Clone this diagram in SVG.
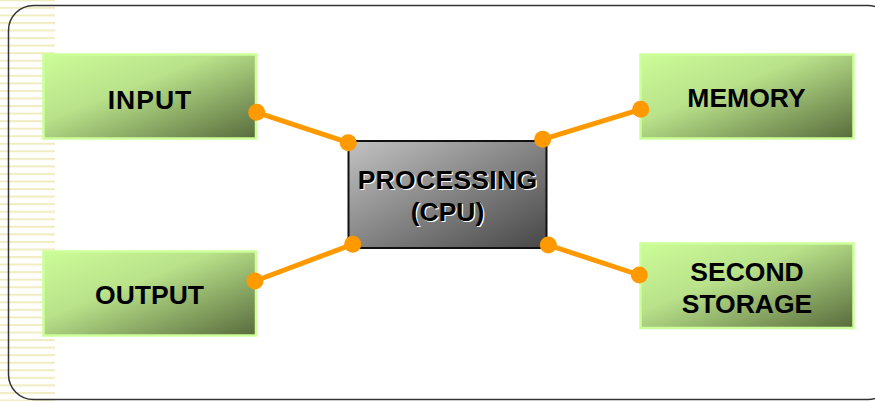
<svg xmlns="http://www.w3.org/2000/svg" width="875" height="401" viewBox="0 0 875 401">
  <defs>
    <pattern id="stripes" x="0" y="-0.7" width="55" height="7.55" patternUnits="userSpaceOnUse">
      <rect x="0" y="0" width="55" height="2.1" fill="#f0edc3"/>
    </pattern>
    <linearGradient id="green" x1="0" y1="0" x2="1" y2="1">
      <stop offset="0" stop-color="#ccfc98"/>
      <stop offset="0.4" stop-color="#b9e28a"/>
      <stop offset="1" stop-color="#586b3c"/>
    </linearGradient>
    <linearGradient id="gray" x1="0" y1="0" x2="1" y2="1">
      <stop offset="0" stop-color="#c2c2c2"/>
      <stop offset="1" stop-color="#474747"/>
    </linearGradient>
    <style>
      .box { fill: url(#green); stroke: #ccff99; stroke-width: 2.5; }
      .cpu { fill: url(#gray); stroke: #111; stroke-width: 2; }
      .lbl { font-family: "Liberation Sans", Arial, sans-serif; font-weight: bold; font-size: 26.5px; text-anchor: middle; fill: #000; }
      .hl { fill: #fff; }
      .conn { stroke: #ff9900; stroke-width: 5; stroke-linecap: round; fill: none; }
      .dot { fill: #ff9900; }
    </style>
  </defs>

  <rect x="0" y="0" width="875" height="401" fill="#fff"/>
  <rect x="0" y="0" width="55" height="401" fill="url(#stripes)"/>
  <rect id="frame" x="8.5" y="5.5" width="884.5" height="394" rx="25" ry="25" fill="none" stroke="#333" stroke-width="1.5"/>

  <g id="connectors">
    <line class="conn" x1="256.7" y1="112.3" x2="348.3" y2="142.7"/>
    <line class="conn" x1="255" y1="281" x2="352.7" y2="244.3"/>
    <line class="conn" x1="542.7" y1="139.3" x2="640.7" y2="109.3"/>
    <line class="conn" x1="548.3" y1="245" x2="639.3" y2="275"/>
  </g>

  <g id="input">
    <rect class="box" x="43.5" y="54.5" width="212.5" height="84"/>
    <text class="lbl" x="150" y="108.6" letter-spacing="1">INPUT</text>
  </g>
  <g id="output">
    <rect class="box" x="43.5" y="251.5" width="212.5" height="84"/>
    <text class="lbl" x="149.5" y="303.6">OUTPUT</text>
  </g>
  <g id="memory">
    <rect class="box" x="640.5" y="54.5" width="213" height="84"/>
    <text class="lbl" x="746.5" y="107">MEMORY</text>
  </g>
  <g id="second-storage">
    <rect class="box" x="640.5" y="243.5" width="213" height="84.5"/>
    <text class="lbl" x="747" y="281">SECOND</text>
    <text class="lbl" x="747" y="312.6">STORAGE</text>
  </g>
  <g id="processing">
    <rect class="cpu" x="348.5" y="141" width="198" height="107"/>
    <text class="lbl hl" x="448.7" y="190" letter-spacing="0.3">PROCESSING</text>
    <text class="lbl hl" x="448.7" y="222.2">(CPU)</text>
    <text class="lbl" x="447.5" y="188.7" letter-spacing="0.3">PROCESSING</text>
    <text class="lbl" x="447.5" y="220.9">(CPU)</text>
  </g>

  <g id="connector-ends">
    <circle class="dot" cx="256.7" cy="112.3" r="8.5"/>
    <circle class="dot" cx="348.3" cy="142.7" r="8.5"/>
    <circle class="dot" cx="255" cy="281" r="8.5"/>
    <circle class="dot" cx="352.7" cy="244.3" r="8.5"/>
    <circle class="dot" cx="542.7" cy="139.3" r="8.5"/>
    <circle class="dot" cx="640.7" cy="109.3" r="8.5"/>
    <circle class="dot" cx="548.3" cy="245" r="8.5"/>
    <circle class="dot" cx="639.3" cy="275" r="8.5"/>
  </g>
</svg>
